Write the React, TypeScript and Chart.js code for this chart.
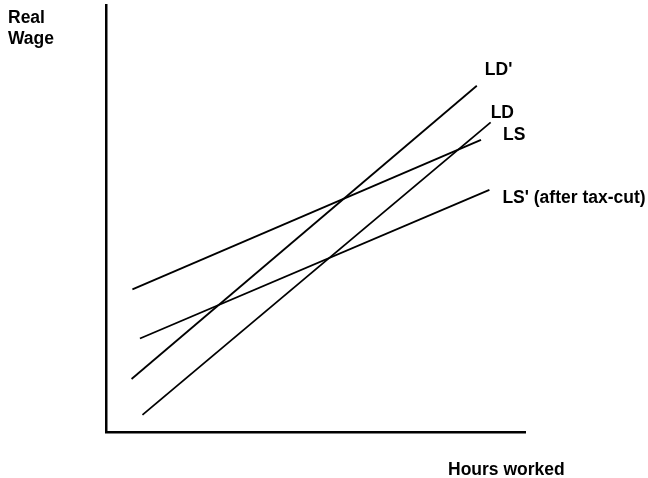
import React, { useEffect, useRef } from "react";
import { Chart, registerables } from "chart.js";

Chart.register(...registerables);

// Curve names
const seriesNames = ["LS", "LS' (after tax-cut)", "LD'", "LD"];
// Endpoints of each curve (hours worked, real wage), arbitrary units 0–100
const lsHours = [6.3, 89.5];
const lsWage = [33.4, 68.4];
const lsAfterHours = [8.1, 91.5];
const lsAfterWage = [21.9, 56.7];
const ldPrimeHours = [6.1, 88.5];
const ldPrimeWage = [12.4, 81.1];
const ldHours = [8.7, 91.8];
const ldWage = [4.0, 72.5];

const yAxisTitle = ["Real", "Wage"];
const xAxisTitle = "Hours worked";

// label offsets from curve end (px)
const labelOffsets: [number, number][] = [
  [22, 0],
  [13, 13],
  [8, -11],
  [0, -4],
];

const FONT = "bold 17.5px 'Liberation Sans', Arial, sans-serif";

const toPoints = (xs: number[], ys: number[]) => xs.map((x, i) => ({ x, y: ys[i] }));

const labelPlugin = {
  id: "curveLabels",
  afterDraw(chart: any) {
    const ctx = chart.ctx;
    ctx.save();
    ctx.font = FONT;
    ctx.fillStyle = "#000";
    ctx.textAlign = "left";
    ctx.textBaseline = "alphabetic";
    chart.data.datasets.forEach((ds: any, i: number) => {
      const meta = chart.getDatasetMeta(i);
      const last = meta.data[meta.data.length - 1];
      const [dx, dy] = labelOffsets[i];
      ctx.fillText(ds.label, last.x + dx, last.y + dy);
    });
    const area = chart.chartArea;
    ctx.fillText(yAxisTitle[0], 8, 23);
    ctx.fillText(yAxisTitle[1], 8, 44);
    ctx.fillText(xAxisTitle, area.right - 77, area.bottom + 43);
    ctx.restore();
  },
};

export default function App() {
  const ref = useRef<HTMLCanvasElement>(null);
  useEffect(() => {
    if (!ref.current) return;
    const series = [
      toPoints(lsHours, lsWage),
      toPoints(lsAfterHours, lsAfterWage),
      toPoints(ldPrimeHours, ldPrimeWage),
      toPoints(ldHours, ldWage),
    ];
    const chart = new Chart(ref.current, {
      type: "line",
      data: {
        datasets: series.map((pts, i) => ({
          label: seriesNames[i],
          data: pts,
          borderColor: "#000",
          borderWidth: 1.8,
          pointRadius: 0,
          fill: false,
          tension: 0,
        })),
      },
      options: {
        animation: false,
        responsive: false,
        devicePixelRatio: 1,
        layout: { padding: { left: 106, top: 5, right: 123, bottom: 46 } },
        plugins: { legend: { display: false }, tooltip: { enabled: false } },
        scales: {
          x: {
            type: "linear",
            min: 0,
            max: 100,
            grid: { display: false, drawTicks: false },
            ticks: { display: false },
            border: { display: true, color: "#000", width: 2.5 },
          },
          y: {
            type: "linear",
            min: 0,
            max: 100,
            grid: { display: false, drawTicks: false },
            ticks: { display: false },
            border: { display: true, color: "#000", width: 2.5 },
          },
        },
      },
      plugins: [labelPlugin],
    });
    return () => chart.destroy();
  }, []);
  return (
    <div style={{ position: "absolute", left: 0, top: 0, width: 648, height: 478, background: "#fff" }}>
      <canvas ref={ref} width={648} height={478} style={{ display: "block" }} />
    </div>
  );
}
